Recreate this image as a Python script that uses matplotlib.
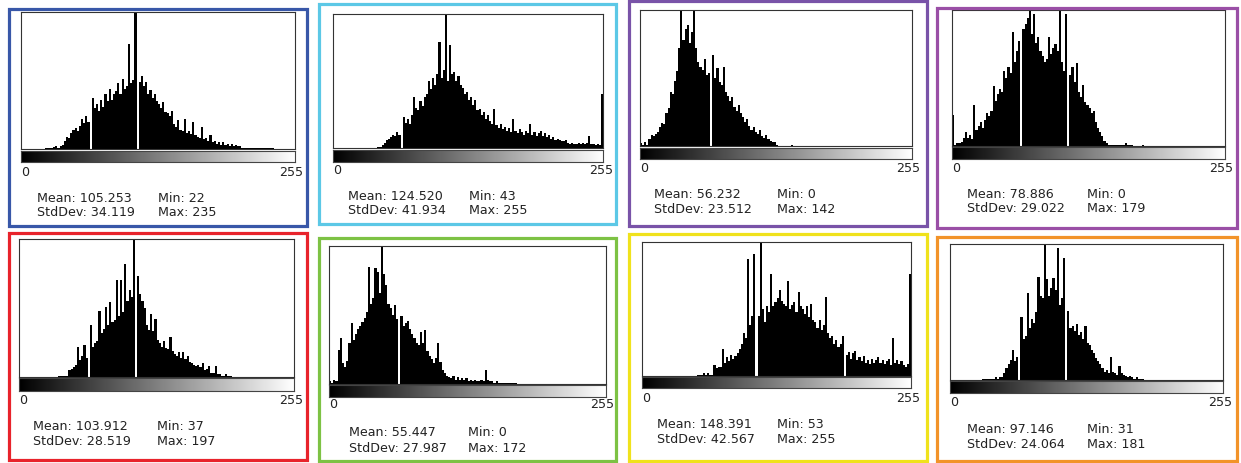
import matplotlib
matplotlib.use("Agg")
import matplotlib.pyplot as plt
from matplotlib.patches import Rectangle
import numpy as np

W, H = 1241, 463

#-------------------------------------------------------------------------------
# histogram heights: 128 bins (2 grey levels each), % of plot height
hist_1 = [0, 0, 0, 0, 0, 0, 0, 0, 0, 0, 0, 1, 0.5, 1, 1, 1.5,
          2, 1, 2, 3, 6, 9, 8, 12, 14, 15, 13, 17, 22, 19, 24, 20,
          0, 37, 30, 33, 28, 36, 31, 40, 35, 44, 36, 40, 42, 48, 40, 51,
          44, 46, 77, 48, 50, 100, 0, 49, 53, 46, 49, 40, 43, 37, 40, 35,
          33, 30, 34, 27, 26, 24, 28, 18, 16, 21, 14, 13, 22, 12, 13, 11,
          20, 10, 9, 8, 16, 7, 8, 6, 10, 5, 6, 4, 5, 3, 5, 3,
          4, 2, 4, 2, 3, 2, 2, 1, 1, 1, 1, 0.5, 1, 0.5, 1, 0.5,
          0.5, 0.5, 0.5, 0.5, 0.5, 0.5, 0, 0, 0, 0, 0, 0, 0, 0, 0, 0]
hist_2 = [0, 0, 0, 0, 0, 0, 0, 0, 0, 0, 0, 0, 0, 0, 0, 0,
          0, 0, 0, 0, 0, 1, 1, 2, 4, 6, 7, 8, 10, 9, 12, 10,
          0, 23, 19, 22, 18, 25, 38, 30, 28, 35, 31, 38, 40, 50, 44, 52,
          47, 55, 79, 52, 58, 100, 50, 77, 55, 57, 50, 54, 47, 45, 40, 42,
          36, 38, 32, 36, 28, 29, 25, 27, 22, 25, 20, 18, 29, 17, 15, 18,
          14, 16, 13, 15, 12, 22, 13, 11, 14, 12, 10, 13, 11, 18, 10, 12,
          9, 11, 13, 9, 11, 8, 10, 7, 8, 6, 7, 6, 5, 5, 6, 4,
          3, 4, 3, 3, 4, 3, 4, 3, 4, 9, 3, 3, 2, 3, 2, 40]
hist_3 = [2, 1, 3, 1, 5, 8, 7, 9, 10, 14, 17, 16, 24, 28, 40, 38,
          48, 55, 72, 100, 78, 86, 89, 76, 84, 100, 72, 62, 58, 56, 64, 52,
          54, 0, 67, 50, 57, 47, 45, 58, 40, 37, 33, 36, 29, 26, 30, 24,
          21, 18, 20, 15, 12, 14, 10, 9, 12, 7, 6, 8, 5, 4, 3, 3,
          1, 0, 0, 0, 0, 0, 0, 1, 0, 0, 0, 0, 0, 0, 0, 0,
          0, 0, 0, 0, 0, 0, 0, 0, 0, 0, 0, 0, 0, 0, 0, 0,
          0, 0, 0, 0, 0, 0, 0, 0, 0, 0, 0, 0, 0, 0, 0, 0,
          0, 0, 0, 0, 0, 0, 0, 0, 0, 0, 0, 0, 0, 0, 0, 0]
hist_4 = [23, 1, 2, 2, 3, 6, 10, 6, 8, 5, 30, 12, 15, 18, 13, 19,
          24, 22, 26, 44, 33, 38, 42, 40, 55, 50, 58, 54, 84, 62, 70, 77,
          0, 86, 90, 94, 100, 82, 97, 76, 80, 70, 66, 62, 64, 80, 68, 72,
          75, 70, 100, 62, 55, 97, 0, 52, 58, 47, 61, 40, 36, 45, 32, 30,
          28, 24, 26, 18, 13, 10, 7, 4, 2, 1, 1, 1, 0.5, 1, 0.5, 1,
          0.5, 2, 0.5, 0.5, 0.5, 0, 0, 0, 0, 1, 0, 0, 0, 0, 0, 0,
          0, 0, 0, 0, 0, 0, 0, 0, 0, 0, 0, 0, 0, 0, 0, 0,
          0, 0, 0, 0, 0, 0, 0, 0, 0, 0, 0, 0, 0, 0, 0, 0]
hist_5 = [0, 0, 0, 0, 0, 0, 0, 0, 0, 0, 0, 0, 0, 0, 0, 0,
          0, 0, 0.5, 0.5, 0.5, 1, 1, 5, 6, 7, 9, 22, 12, 15, 23, 14,
          0, 38, 22, 25, 26, 48, 32, 35, 51, 38, 54, 40, 41, 70, 44, 70,
          47, 82, 55, 63, 58, 100, 0, 73, 60, 55, 50, 38, 34, 46, 33, 42,
          27, 25, 22, 26, 21, 20, 29, 19, 17, 15, 18, 14, 18, 13, 15, 11,
          10, 9, 8, 9, 7, 10, 5, 6, 8, 3, 3, 8, 2, 2, 1, 1,
          2, 1, 1, 0, 0, 0, 0, 0, 0, 0, 0, 0, 0, 0, 0, 0,
          0, 0, 0, 0, 0, 0, 0, 0, 0, 0, 0, 0, 0, 0, 0, 0]
hist_6 = [2, 1, 3, 2, 25, 33, 15, 12, 17, 30, 44, 32, 36, 40, 42, 45,
          48, 52, 85, 58, 62, 84, 81, 66, 100, 80, 72, 58, 55, 50, 57, 47,
          0, 49, 42, 44, 46, 40, 36, 33, 30, 28, 38, 30, 39, 24, 20, 18,
          15, 19, 30, 16, 10, 8, 6, 5, 4, 6, 3, 5, 3, 4, 3, 4,
          2, 3, 2, 3, 2, 2, 3, 2, 10, 3, 2, 2, 1, 2, 1, 1,
          1, 0.5, 0.5, 0.5, 0.5, 0.5, 0.5, 0, 0, 0, 0, 0, 0, 0, 0, 0,
          0, 0, 0, 0, 0, 0, 0, 0, 0, 0, 0, 0, 0, 0, 0, 0,
          0, 0, 0, 0, 0, 0, 0, 0, 0, 0, 0, 0, 0, 0, 0, 0]
hist_7 = [0, 0, 0, 0, 0, 0, 0, 0, 0, 0, 0, 0, 0, 0, 0, 0,
          0, 0, 0, 0, 0, 0, 0, 0, 0, 0, 0.5, 1, 1, 2, 1, 2,
          0.5, 1, 8, 6, 7, 7, 20, 10, 14, 11, 16, 13, 15, 17, 20, 24,
          32, 28, 87, 38, 45, 91, 0, 45, 100, 50, 40, 52, 48, 76, 52, 55,
          58, 64, 56, 54, 52, 71, 50, 53, 55, 48, 63, 52, 50, 46, 52, 44,
          54, 42, 40, 36, 42, 34, 38, 59, 32, 28, 30, 24, 27, 22, 24, 30,
          0, 16, 18, 13, 17, 19, 12, 14, 11, 15, 10, 12, 9, 13, 10, 12,
          14, 10, 12, 9, 11, 13, 8, 28, 10, 12, 9, 11, 8, 7, 9, 76]
hist_8 = [0, 0, 0, 0, 0, 0, 0, 0, 0, 0, 0, 0, 0, 0, 0, 1,
          0.5, 1, 0.5, 1, 1, 2, 1, 2, 2, 5, 9, 12, 15, 22, 14, 17,
          0, 46, 30, 32, 64, 38, 45, 42, 50, 76, 62, 60, 100, 74, 62, 68,
          75, 66, 97, 55, 60, 90, 0, 51, 38, 40, 36, 41, 33, 35, 30, 40,
          27, 26, 22, 20, 16, 14, 12, 9, 6, 7, 5, 17, 6, 5, 4, 10,
          5, 4, 3, 2, 3, 2, 1, 2, 1, 0.5, 1, 0, 0, 0, 0, 0,
          0, 0, 0, 0, 0, 0, 0, 0, 0, 0, 0, 0, 0, 0, 0, 0,
          0, 0, 0, 0, 0, 0, 0, 0, 0, 0, 0, 0, 0, 0, 0, 0]

hists = [hist_1, hist_2, hist_3, hist_4, hist_5, hist_6, hist_7, hist_8]
means = ["105.253", "124.520", "56.232", "78.886", "103.912", "55.447", "148.391", "97.146"]
stds = ["34.119", "41.934", "23.512", "29.022", "28.519", "27.987", "42.567", "24.064"]
mins = ["22", "43", "0", "0", "37", "0", "53", "31"]
maxs = ["235", "255", "142", "179", "197", "172", "255", "181"]
frame_colors = ["#3857a8", "#5cc8e6", "#7953a8", "#9a4fa6",
                "#e8232b", "#7dc244", "#f0e21c", "#f29329"]

#-------------------------------------------------------------------------------
# layout in pixels (frame, plot box, gradient rows, text rows/columns)
layout = [
    dict(frame=(9, 9, 307, 226), box=(21, 12, 295, 149), grad=(151, 162), zero=172, mean=199, std=213, x1=37, x2=158, r=303),
    dict(frame=(319, 4, 616, 224), box=(333, 14, 603, 148), grad=(150, 162), zero=170, mean=196, std=210, x1=348, x2=469, r=613),
    dict(frame=(629, 1, 927, 226), box=(640, 10, 912, 146), grad=(148, 159), zero=168.5, mean=194, std=209.5, x1=654, x2=777, r=920),
    dict(frame=(937, 8, 1237, 228), box=(952, 10, 1225, 146), grad=(147, 159), zero=168.5, mean=194.7, std=209, x1=967, x2=1087, r=1233),
    dict(frame=(9, 233, 307, 460), box=(19, 239, 294, 377), grad=(378, 391), zero=400.7, mean=426, std=441.7, x1=33, x2=157, r=303),
    dict(frame=(319, 238, 616, 461), box=(329, 246, 606, 384), grad=(385, 397), zero=405, mean=433, std=448, x1=349, x2=468, r=614),
    dict(frame=(629, 234, 927, 461), box=(642, 242, 911, 376), grad=(377, 388), zero=398, mean=424, std=439.5, x1=657, x2=777, r=920),
    dict(frame=(937, 237, 1237, 461), box=(950, 244, 1223, 380), grad=(381, 393), zero=403, mean=429.5, std=444, x1=967, x2=1087, r=1232),
]

FS = 9.1
edges = np.arange(0, 257, 2)
ramp = np.linspace(0, 1, 256).reshape(1, -1)

def px_axes(fig, x0, y0, x1, y1):
    return fig.add_axes([x0 / W, 1 - y1 / H, (x1 - x0) / W, (y1 - y0) / H])

def txt(fig, x, y, s, ha="left"):
    fig.text(x / W, 1 - y / H, s, ha=ha, va="center", fontsize=FS, color="#222222")

#-------------------------------------------------------------------------------
fig = plt.figure(figsize=(W / 100, H / 100), dpi=100)
fig.patch.set_facecolor("white")

for i, L in enumerate(layout):
    fx0, fy0, fx1, fy1 = L["frame"]
    fig.patches.append(Rectangle((fx0 / W, 1 - fy1 / H), (fx1 - fx0) / W, (fy1 - fy0) / H,
                                 transform=fig.transFigure, fill=False,
                                 edgecolor=frame_colors[i], linewidth=2.3))

    bx0, by0, bx1, by1 = L["box"]
    ax = px_axes(fig, bx0, by0, bx1, by1)
    ax.stairs(hists[i], edges, fill=True, color="black", linewidth=0)
    ax.set_xlim(0, 256)
    ax.set_ylim(0, 100)
    ax.set_xticks([])
    ax.set_yticks([])
    for sp in ax.spines.values():
        sp.set_linewidth(0.8)
        sp.set_color("#333333")

    g0, g1 = L["grad"]
    axg = px_axes(fig, bx0, g0, bx1, g1)
    axg.imshow(ramp, cmap="gray", aspect="auto", extent=[0, 256, 0, 1])
    axg.set_xticks([])
    axg.set_yticks([])
    for sp in axg.spines.values():
        sp.set_linewidth(0.8)
        sp.set_color("#444444")

    txt(fig, bx0, L["zero"], "0")
    txt(fig, L["r"], L["zero"], "255", ha="right")
    txt(fig, L["x1"], L["mean"], "Mean: " + means[i])
    txt(fig, L["x1"], L["std"], "StdDev: " + stds[i])
    txt(fig, L["x2"], L["mean"], "Min: " + mins[i])
    txt(fig, L["x2"], L["std"], "Max: " + maxs[i])

plt.savefig("out.png", dpi=100)
